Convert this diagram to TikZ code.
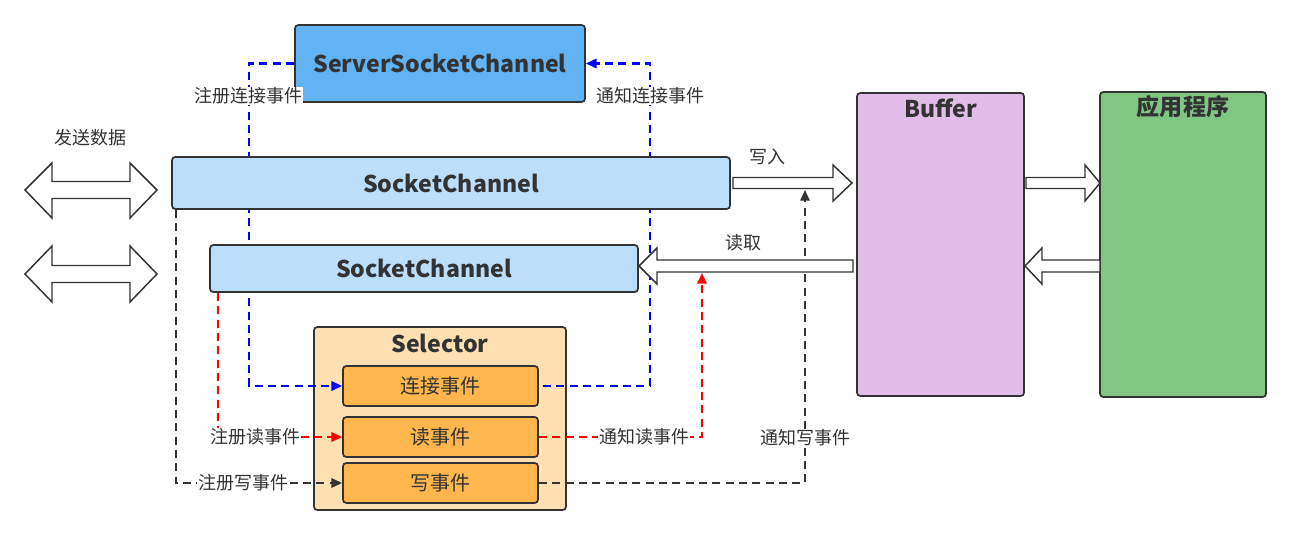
\documentclass[tikz,border=0pt]{standalone}
\usepackage{fontspec}
\setmainfont{Noto Sans CJK SC}
\usetikzlibrary{arrows.meta}
\definecolor{sscfill}{HTML}{62B3F4}
\definecolor{scfill}{HTML}{BBDEFB}
\definecolor{selfill}{HTML}{FFE0B2}
\definecolor{evfill}{HTML}{FFB74D}
\definecolor{buffill}{HTML}{E1BEE7}
\definecolor{appfill}{HTML}{81C784}
\definecolor{edgec}{HTML}{333333}
\definecolor{txt}{HTML}{333333}
\pgfdeclarelayer{bottom}
\pgfdeclarelayer{background}
\pgfdeclarelayer{foreground}
\pgfsetlayers{bottom,background,main,foreground}
\begin{document}
\begin{tikzpicture}[x=0.75pt,y=-0.75pt,
  box/.style={draw=edgec,line width=1.3pt,rounded corners=2.5pt,inner sep=0pt,text=txt},
  title/.style={font=\fontsize{17.3pt}{20pt}\selectfont\bfseries,text=txt},
  evtext/.style={font=\fontsize{15pt}{17pt}\selectfont,text=txt},
  lbl/.style={font=\fontsize{13.5pt}{15pt}\selectfont,text=txt,fill=white,inner sep=0.5pt},
  plainlbl/.style={font=\fontsize{13.5pt}{15pt}\selectfont,text=txt,inner sep=0.5pt},
  blockarrow/.style={draw=edgec,line width=1.1pt,fill=white,line join=miter},
  tipc/.style={-{Triangle[length=8pt,width=7pt]}},
  bluedash/.style={draw=blue,line width=1.6pt,dash pattern=on 6pt off 4pt,tipc},
  reddash/.style={draw=red,line width=1.6pt,dash pattern=on 6pt off 4pt,tipc},
  blackdash/.style={draw=edgec,line width=1.4pt,dash pattern=on 6pt off 4pt,tipc}]
\useasboundingbox (0,0) rectangle (1290,535);

% boxes
\node[box,fill=sscfill,minimum width=217.5pt,minimum height=57.75pt,title] (ssc) at (440,63.5) {ServerSocketChannel};
\node[box,fill=scfill,minimum width=418.5pt,minimum height=39pt,title] (sc1) at (451,183) {SocketChannel};
\node[box,fill=scfill,minimum width=321pt,minimum height=35.25pt,title] (sc2) at (424,268.5) {SocketChannel};
\begin{pgfonlayer}{bottom}
\node[box,fill=selfill,minimum width=189pt,minimum height=137.25pt] (sel) at (440,418.5) {};
\end{pgfonlayer}
\node[title] (seltitle) at (440,343) {Selector};
\node[box,fill=evfill,minimum width=146.25pt,minimum height=30pt,evtext] (ev1) at (440.5,386) {连接事件};
\node[box,fill=evfill,minimum width=146.25pt,minimum height=30pt,evtext] (ev2) at (440.5,437) {读事件};
\node[box,fill=evfill,minimum width=146.25pt,minimum height=30pt,evtext] (ev3) at (440.5,483) {写事件};
\node[box,fill=buffill,minimum width=125.25pt,minimum height=227.25pt] (buf) at (940.5,244.5) {};
\node[title] (buftitle) at (940.5,108) {Buffer};
\node[box,fill=appfill,minimum width=124.5pt,minimum height=228.75pt] (app) at (1183,244.5) {};
\node[title] (apptitle) at (1183,107) {应用程序};

% block arrows
\draw[blockarrow] (25,190) -- (52,163) -- (52,181.5) -- (130,181.5) -- (130,163) -- (157,190) -- (130,218) -- (130,198.5) -- (52,198.5) -- (52,218) -- cycle;
\draw[blockarrow] (25,274) -- (52,246) -- (52,265.5) -- (130,265.5) -- (130,246) -- (157,274) -- (130,302) -- (130,282.5) -- (52,282.5) -- (52,302) -- cycle;
% write: socketchannel -> buffer
\draw[blockarrow] (733,177.5) -- (833,177.5) -- (833,165) -- (852,183) -- (833,201) -- (833,188.5) -- (733,188.5) -- cycle;
% read: buffer -> socketchannel2
\draw[blockarrow] (853,260) -- (657,260) -- (657,248) -- (639,266) -- (657,284) -- (657,272) -- (853,272) -- cycle;
% buffer -> app
\draw[blockarrow] (1026,177.5) -- (1085,177.5) -- (1085,165) -- (1100,183) -- (1085,201) -- (1085,188.5) -- (1026,188.5) -- cycle;
% app -> buffer
\draw[blockarrow] (1100,260) -- (1042,260) -- (1042,248) -- (1025,266) -- (1042,284) -- (1042,272) -- (1100,272) -- cycle;

\coordinate (rc) at (249,0);
\coordinate (nc) at (650,0);
\coordinate (rr) at (218,0);
\coordinate (nr) at (702,0);
\coordinate (rw) at (176,0);
\coordinate (nw) at (805,0);
\coordinate (rdbot) at (702,273);
\coordinate (wrbot) at (805,190);

\begin{pgfonlayer}{background}
\draw[bluedash] (ssc.west) -- (ssc.west -| rc) -- (ev1.west -| rc) -- (ev1.west);
\draw[bluedash] ([xshift=3pt]ev1.east) -- (ev1.east -| nc) -- (ssc.east -| nc) -- (ssc.east);
\draw[reddash] (sc2.south -| rr) -- (ev2.west -| rr) -- (ev2.west);
\draw[reddash] (ev2.east) -- (ev2.east -| nr) -- (rdbot);
\draw[blackdash] (sc1.south -| rw) -- (ev3.west -| rw) -- (ev3.west);
\draw[blackdash] (ev3.east) -- (ev3.east -| nw) -- (wrbot);
\end{pgfonlayer}

\begin{pgfonlayer}{foreground}
\node[lbl] (l1) at (248,96) {注册连接事件};
\node[lbl] (l2) at (650,96) {通知连接事件};
\node[lbl] (l3) at (255,437) {注册读事件};
\node[lbl] (l4) at (644,437) {通知读事件};
\node[lbl] (l5) at (243,483) {注册写事件};
\node[lbl] (l6) at (805,438) {通知写事件};
\node[plainlbl] (l7) at (90,138) {发送数据};
\node[plainlbl] (l8) at (767,157) {写入};
\node[plainlbl] (l9) at (743,243) {读取};
\end{pgfonlayer}
\end{tikzpicture}
\end{document}
